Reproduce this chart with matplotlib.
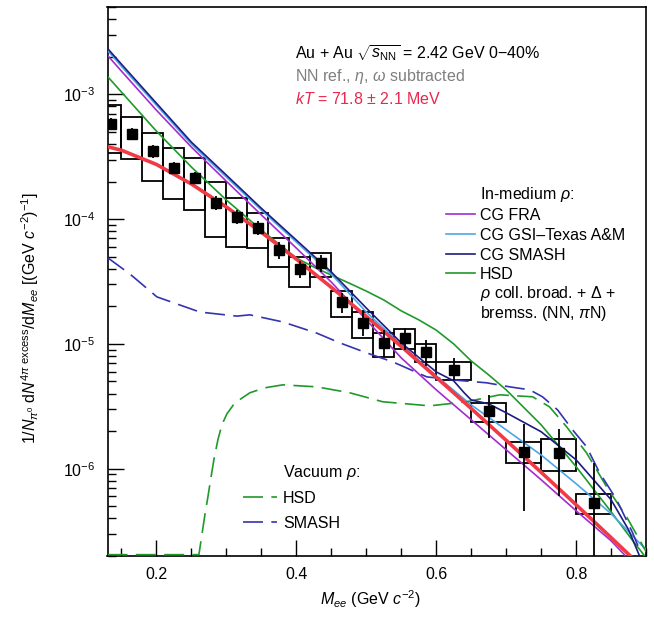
import numpy as np
import matplotlib
matplotlib.use('Agg')
import matplotlib.pyplot as plt
from matplotlib.patches import Rectangle
from matplotlib.lines import Line2D
from matplotlib.ticker import MultipleLocator, LogLocator, NullFormatter, FormatStrFormatter

plt.rcParams['font.family'] = ['Liberation Sans', 'DejaVu Sans']
plt.rcParams['mathtext.fontset'] = 'custom'
plt.rcParams['mathtext.rm'] = 'Liberation Sans'
plt.rcParams['mathtext.it'] = 'Liberation Sans:italic'
plt.rcParams['mathtext.bf'] = 'Liberation Sans:bold'
plt.rcParams['mathtext.sf'] = 'Liberation Sans'

# ---------------- data ----------------
bin_lo = [0.12, 0.15, 0.18, 0.21, 0.24, 0.27, 0.30, 0.33, 0.36, 0.39, 0.42, 0.45,
          0.48, 0.51, 0.54, 0.57, 0.60, 0.65, 0.70, 0.75, 0.80]
bin_hi = [0.15, 0.18, 0.21, 0.24, 0.27, 0.30, 0.33, 0.36, 0.39, 0.42, 0.45, 0.48,
          0.51, 0.54, 0.57, 0.60, 0.65, 0.70, 0.75, 0.80, 0.85]
data_y = [5.75e-4, 4.79e-4, 3.50e-4, 2.56e-4, 2.13e-4, 1.34e-4, 1.04e-4, 8.47e-5,
          5.65e-5, 3.98e-5, 4.45e-5, 2.17e-5, 1.47e-5, 1.02e-5, 1.12e-5, 8.63e-6,
          6.19e-6, 2.91e-6, 1.37e-6, 1.34e-6, 5.35e-7]
stat_lo = [5.15e-4, 4.29e-4, 3.08e-4, 2.29e-4, 1.91e-4, 1.18e-4, 9.12e-5, 7.45e-5,
           4.79e-5, 3.37e-5, 3.77e-5, 1.77e-5, 1.16e-5, 7.87e-6, 8.95e-6, 6.67e-6,
           5.15e-6, 1.77e-6, 4.61e-7, 6.08e-7, 1.0e-7]
stat_hi = [6.43e-4, 5.35e-4, 3.91e-4, 2.86e-4, 2.38e-4, 1.53e-4, 1.18e-4, 9.64e-5,
           6.55e-5, 4.61e-5, 5.15e-5, 2.56e-5, 1.87e-5, 1.29e-5, 1.34e-5, 1.08e-5,
           7.73e-6, 3.91e-6, 2.29e-6, 2.09e-6, 1.12e-6]
sys_lo = [3.37e-4, 3.02e-4, 2.01e-4, 1.45e-4, 1.18e-4, 7.18e-5, 5.97e-5, 5.86e-5,
          4.13e-5, 2.86e-5, 3.44e-5, 1.64e-5, 1.12e-5, 7.87e-6, 9.12e-6, 7.18e-6,
          5.15e-6, 2.38e-6, 1.12e-6, 9.64e-7, 4.37e-7]
sys_hi = [8.17e-4, 6.55e-4, 4.88e-4, 3.70e-4, 3.08e-4, 1.98e-4, 1.47e-4, 1.12e-4,
          7.05e-5, 4.97e-5, 5.35e-5, 2.65e-5, 1.80e-5, 1.22e-5, 1.32e-5, 1.00e-5,
          7.18e-6, 3.37e-6, 1.64e-6, 1.74e-6, 6.31e-7]

# thermal fit (kT = 71.8 MeV)
fit_m = [0.13, 0.15, 0.20, 0.25, 0.30, 0.35, 0.40, 0.45, 0.50, 0.55, 0.60, 0.65,
         0.70, 0.75, 0.80, 0.85, 0.90]
fit_y = [3.80e-4, 3.56e-4, 2.74e-4, 1.91e-4, 1.25e-4, 7.84e-5, 4.78e-5, 2.84e-5,
         1.66e-5, 9.55e-6, 5.41e-6, 3.04e-6, 1.69e-6, 9.38e-7, 5.15e-7, 2.81e-7, 1.52e-7]

# in-medium models
fra_m = [0.13, 0.15, 0.20, 0.25, 0.30, 0.35, 0.40, 0.45, 0.50, 0.55, 0.60, 0.65,
         0.70, 0.75, 0.80, 0.85, 0.88]
fra_y = [2.05e-3, 1.53e-3, 7.45e-4, 3.77e-4, 2.01e-4, 1.08e-4, 5.86e-5, 3.13e-5,
         1.56e-5, 7.73e-6, 4.29e-6, 2.47e-6, 1.42e-6, 8.17e-7, 4.61e-7, 2.65e-7, 1.77e-7]

tamu_m = [0.13, 0.15, 0.20, 0.25, 0.30, 0.35, 0.40, 0.45, 0.50, 0.55, 0.60, 0.65,
          0.70, 0.75, 0.80, 0.85, 0.90]
tamu_y = [2.25e-3, 1.67e-3, 8.17e-4, 3.98e-4, 2.17e-4, 1.18e-4, 6.55e-5, 3.63e-5,
          1.80e-5, 9.82e-6, 5.55e-6, 3.25e-6, 2.05e-6, 1.29e-6, 7.59e-7, 4.37e-7, 2.25e-7]

smash_m = [0.13, 0.15, 0.20, 0.25, 0.30, 0.35, 0.40, 0.45, 0.50, 0.55, 0.60, 0.625,
           0.64, 0.65, 0.675, 0.70, 0.75, 0.80, 0.85, 0.875, 0.89, 0.90]
smash_y = [2.33e-3, 1.74e-3, 8.47e-4, 4.13e-4, 2.25e-4, 1.22e-4, 6.79e-5, 3.77e-5,
           1.94e-5, 1.02e-5, 5.97e-6, 5.06e-6, 4.06e-6, 3.56e-6, 3.31e-6, 2.81e-6,
           1.98e-6, 1.18e-6, 5.65e-7, 3.25e-7, 2.05e-7, 1.5e-7]

hsd_m = [0.13, 0.15, 0.20, 0.25, 0.30, 0.35, 0.40, 0.425, 0.45, 0.475, 0.50, 0.525,
         0.55, 0.575, 0.60, 0.625, 0.65, 0.675, 0.70, 0.75, 0.80, 0.85, 0.88, 0.90]
hsd_y = [1.39e-3, 1.04e-3, 5.06e-4, 2.61e-4, 1.42e-4, 8.17e-5, 4.88e-5, 4.13e-5,
         3.56e-5, 3.08e-5, 2.65e-5, 2.25e-5, 1.84e-5, 1.56e-5, 1.29e-5, 1.00e-5,
         7.31e-6, 5.65e-6, 4.29e-6, 2.25e-6, 1.04e-6, 4.53e-7, 2.70e-7, 1.94e-7]

# vacuum models
hsdvac_m = [0.13, 0.2607, 0.265, 0.2693, 0.2736, 0.2779, 0.2821, 0.2879, 0.2936,
            0.3007, 0.3121, 0.3336, 0.355, 0.3807, 0.4293, 0.4764, 0.5236, 0.5907,
            0.6436, 0.6907, 0.7379, 0.7621, 0.7864, 0.815, 0.8436, 0.8721, 0.8907, 0.90]
hsdvac_y = [2.05e-7, 2.05e-7, 2.96e-7, 4.29e-7, 5.97e-7, 8.47e-7, 1.18e-6, 1.71e-6,
            2.25e-6, 2.75e-6, 3.37e-6, 4.06e-6, 4.45e-6, 4.70e-6, 4.53e-6, 4.06e-6,
            3.44e-6, 3.19e-6, 3.44e-6, 3.91e-6, 3.77e-6, 3.13e-6, 2.17e-6, 1.34e-6,
            7.18e-7, 4.13e-7, 2.70e-7, 2.17e-7]

smashvac_m = [0.1307, 0.1621, 0.2007, 0.2621, 0.315, 0.3336, 0.3807, 0.4293, 0.4621,
              0.5007, 0.5379, 0.5864, 0.6236, 0.6721, 0.705, 0.7336, 0.752, 0.7736,
              0.795, 0.815, 0.8336, 0.858, 0.8807, 0.8907]
smashvac_y = [4.88e-5, 3.63e-5, 2.38e-5, 1.80e-5, 1.67e-5, 1.71e-5, 1.50e-5, 1.22e-5,
              1.02e-5, 8.47e-6, 7.18e-6, 5.45e-6, 5.15e-6, 4.88e-6, 4.53e-6, 4.29e-6,
              3.77e-6, 2.96e-6, 2.05e-6, 1.50e-6, 9.29e-7, 5.65e-7, 3.08e-7, 2.25e-7]

# ---------------- styling ----------------
C_FRA = '#a52ad0'
C_TAMU = '#4aa6e8'
C_SMASH = '#1c1c80'
C_HSD = '#1f9a2a'
C_SMASHVAC = '#3434b0'
C_RED = '#f03a45'
C_KT = '#e8284e'

W, H = 654, 618
fig = plt.figure(figsize=(W / 100, H / 100), dpi=100)
ax = fig.add_axes([107.5 / W, 1 - 556 / H, (646 - 107.5) / W, (556 - 7) / H])
ax.set_yscale('log')
ax.set_xlim(0.13, 0.90)
ax.set_ylim(2e-7, 5e-3)

# systematic boxes
for lo, hi, sl, sh in zip(bin_lo, bin_hi, sys_lo, sys_hi):
    ax.add_patch(Rectangle((lo, sl), hi - lo, sh - sl, fill=False, edgecolor='black',
                           linewidth=1.3, zorder=2))

lw = 1.2
ax.plot(hsd_m, hsd_y, color=C_HSD, lw=lw, zorder=3)
ax.plot(fra_m, fra_y, color=C_FRA, lw=lw, zorder=3)
ax.plot(tamu_m, tamu_y, color=C_TAMU, lw=lw, zorder=3)
ax.plot(smash_m, smash_y, color=C_SMASH, lw=lw, zorder=3.1)
ax.plot(hsdvac_m, hsdvac_y, color=C_HSD, lw=lw, dashes=(12, 5), zorder=3)
ax.plot(smashvac_m, smashvac_y, color=C_SMASHVAC, lw=lw, dashes=(12, 5), zorder=3)
ax.plot(fit_m, fit_y, color=C_RED, lw=2.6, zorder=4, solid_capstyle='butt')

centers = [(a + b) / 2 for a, b in zip(bin_lo, bin_hi)]
yerr = [[y - l for y, l in zip(data_y, stat_lo)], [h - y for y, h in zip(data_y, stat_hi)]]
ax.errorbar(centers, data_y, yerr=yerr, fmt='s', color='black', ms=7.2, elinewidth=1.3,
            capsize=0, zorder=5)

# axes styling
for s in ax.spines.values():
    s.set_linewidth(1.2)
ax.xaxis.set_major_locator(MultipleLocator(0.2))
ax.xaxis.set_minor_locator(MultipleLocator(0.05))
ax.xaxis.set_major_formatter(FormatStrFormatter('%.1f'))
ax.yaxis.set_major_locator(LogLocator(base=10))
ax.yaxis.set_minor_locator(LogLocator(base=10, subs=np.arange(2, 10)))
ax.yaxis.set_minor_formatter(NullFormatter())
ax.tick_params(which='both', direction='in', top=False, right=False, labelsize=11.5)
ax.tick_params(which='major', length=11.5, width=1.0)
ax.tick_params(which='minor', length=6, width=1.0)
ax.tick_params(axis='x', pad=8)
ax.tick_params(axis='y', pad=9)

# axis titles
fig.text(370 / W, 1 - 605 / H, r'$M_{ee}$ (GeV $c^{-2}$)', ha='center', va='baseline',
         fontsize=11.5)
fig.text(30 / W, 1 - 318 / H,
         r'$1/N_{\pi^0}\;\mathrm{d}N^{4\pi\ \mathrm{excess}}/\mathrm{d}M_{ee}$ [(GeV $c^{-2}$)$^{-1}$]',
         rotation=90, ha='center', va='center', fontsize=11.5)

# header text
fs = 11.5
fig.text(295 / W, 1 - 58 / H, r'Au + Au $\sqrt{s_{\mathrm{NN}}}$ = 2.42 GeV 0$-$40%',
         fontsize=fs, color='black', va='baseline')
fig.text(295 / W, 1 - 81 / H, r'NN ref., $\eta$, $\omega$ subtracted',
         fontsize=fs, color='#7f7f7f', va='baseline')
fig.text(295 / W, 1 - 104 / H, r'$kT$ = 71.8 $\pm$ 2.1 MeV',
         fontsize=fs, color=C_KT, va='baseline')

# in-medium legend
fig.text(480 / W, 1 - 199 / H, r'In-medium $\rho$:', fontsize=fs, va='baseline')
leg_items = [('CG FRA', C_FRA, 214), ('CG GSI\u2013Texas A&M', C_TAMU, 234),
             ('CG SMASH', C_SMASH, 254), ('HSD', C_HSD, 273)]
for label, col, yy in leg_items:
    fig.add_artist(Line2D([446 / W, 475 / W], [1 - yy / H, 1 - yy / H], color=col, lw=lw,
                          transform=fig.transFigure))
    fig.text(480 / W, 1 - (yy + 6) / H, label, fontsize=fs, va='baseline')
fig.text(480 / W, 1 - 298 / H, r'$\rho$ coll. broad. + $\Delta$ +', fontsize=fs, va='baseline')
fig.text(480 / W, 1 - 318 / H, r'bremss. (NN, $\pi$N)', fontsize=fs, va='baseline')

# vacuum legend
fig.text(283 / W, 1 - 477 / H, r'Vacuum $\rho$:', fontsize=fs, va='baseline')
for label, col, yy in [('HSD', C_HSD, 497), ('SMASH', C_SMASHVAC, 522)]:
    fig.add_artist(Line2D([243 / W, 277 / W], [1 - yy / H, 1 - yy / H], color=col, lw=lw,
                          dashes=(12, 5), transform=fig.transFigure))
    fig.text(283 / W, 1 - (yy + 6) / H, label, fontsize=fs, va='baseline')

fig.savefig('out.png', dpi=100)
